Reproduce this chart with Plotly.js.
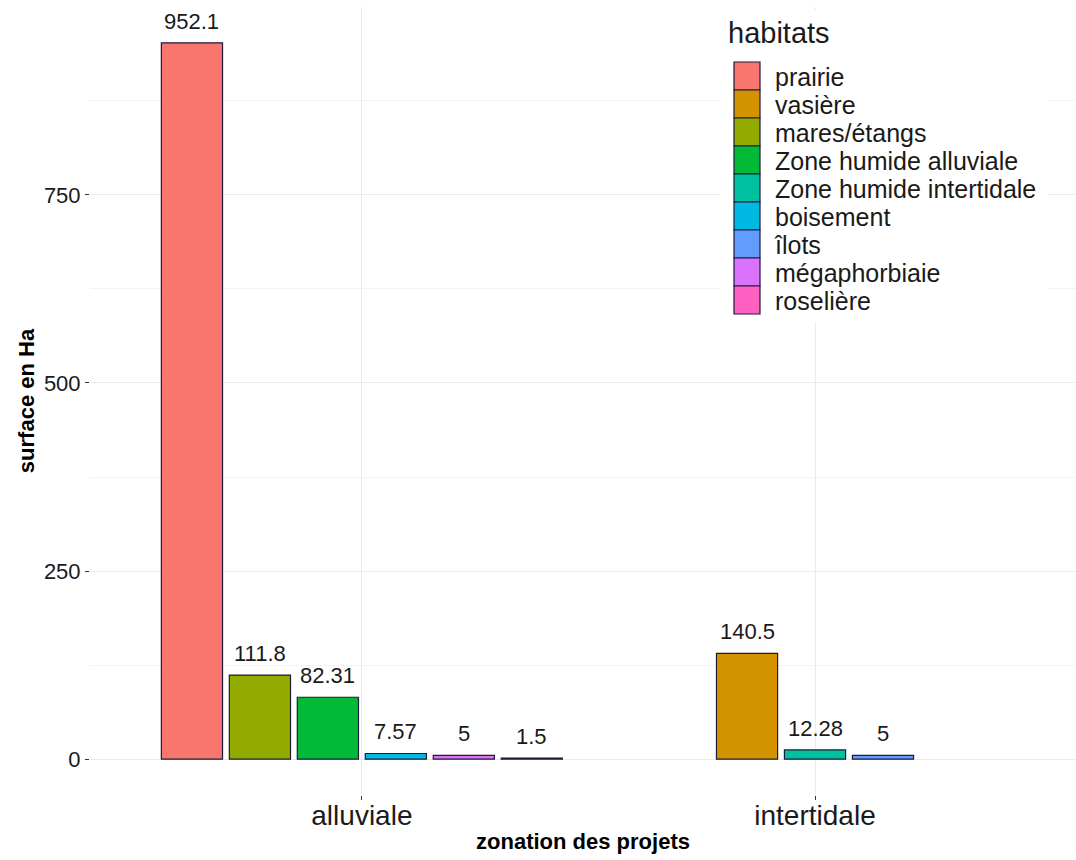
<!DOCTYPE html>
<html>
<head>
<meta charset="utf-8">
<script src="https://cdn.plot.ly/plotly-3.0.1.min.js"></script>
<style>
  html, body { margin: 0; padding: 0; background: #ffffff; }
  #plot { width: 1076px; height: 860px; }
</style>
</head>
<body>
<div id="plot"></div>
<script>
// ---- data ----
const categories = ['alluviale', 'intertidale'];
const habitats = ['prairie', 'vasière', 'mares/étangs', 'Zone humide alluviale', 'Zone humide intertidale', 'boisement', 'îlots', 'mégaphorbiaie', 'roselière'];
const zonation = ['alluviale', 'intertidale', 'alluviale', 'alluviale', 'intertidale', 'alluviale', 'intertidale', 'alluviale', 'alluviale'];
const surface = [952.1, 140.5, 111.8, 82.31, 12.28, 7.57, 5, 5, 1.5];
const colors = ['#F8766D', '#D39200', '#93AA00', '#00BA38', '#00C19F', '#00B9E3', '#619CFF', '#DB72FB', '#FF61C3'];
const yTicks = [0, 250, 500, 750];

// ---- dodge positions (ggplot position_dodge2, preserve = "single") ----
const groupSizes = categories.map(c => zonation.filter(z => z === c).length);
const maxN = Math.max(...groupSizes);
const slot = 0.9 / maxN;
const barW = slot * 0.9;

const traces = [];
const annotations = [];
const FONT = 'Liberation Sans, Arial, sans-serif';
habitats.forEach((h, i) => {
  const c = zonation[i];
  const ci = categories.indexOf(c);
  const members = habitats.map((_, j) => j).filter(j => zonation[j] === c);
  const idx = members.indexOf(i);
  const n = members.length;
  const center = (-n / 2 + idx + 0.5) * slot;
  traces.push({
    type: 'bar',
    name: h,
    x: [c],
    y: [surface[i]],
    width: [barW],
    offset: [center - barW / 2],
    marker: { color: colors[i], line: { color: '#1c1b3a', width: 1.2 } },
    hoverinfo: 'none'
  });
  annotations.push({
    x: ci + center,
    y: surface[i],
    xref: 'x', yref: 'y',
    text: String(surface[i]),
    showarrow: false,
    yanchor: 'bottom',
    yshift: 7,
    font: { family: FONT, size: 22, color: '#1a1a1a' }
  });
});

const yMax = Math.max(...surface);
const layout = {
  width: 1076,
  height: 860,
  margin: { l: 90, r: 0, t: 7, b: 65 },
  paper_bgcolor: '#ffffff',
  plot_bgcolor: '#ffffff',
  font: { family: FONT, color: '#1a1a1a' },
  barmode: 'overlay',
  showlegend: true,
  hovermode: false,
  xaxis: {
    type: 'category',
    categoryorder: 'array',
    categoryarray: categories,
    range: [-0.6, 1.576],
    showgrid: true,
    gridcolor: '#ebebeb',
    gridwidth: 1,
    zeroline: false,
    showline: false,
    ticks: 'outside',
    ticklen: 4,
    tickwidth: 1,
    tickcolor: '#333333',
    ticklabelstandoff: -9,
    tickfont: { family: FONT, size: 28, color: '#1a1a1a' },
    title: { text: '<b>zonation des projets</b>', font: { family: FONT, size: 22, color: '#000000' }, standoff: 4 }
  },
  yaxis: {
    range: [-0.05 * yMax, yMax * 1.05],
    tickvals: yTicks,
    ticktext: yTicks.map(String),
    showgrid: true,
    gridcolor: '#ebebeb',
    gridwidth: 1,
    minor: { tickvals: [125, 375, 625, 875], showgrid: true, gridcolor: '#f3f3f3', gridwidth: 1, ticks: '' },
    zeroline: false,
    showline: false,
    ticks: 'outside',
    ticklen: 4,
    tickwidth: 1,
    tickcolor: '#333333',
    tickfont: { family: FONT, size: 22, color: '#1a1a1a' },
    title: { text: '<b>surface en Ha</b>', font: { family: FONT, size: 22, color: '#000000' }, standoff: 3 }
  },
  legend: {
    x: (720 - 90) / 986,
    y: 1,
    xanchor: 'left',
    yanchor: 'top',
    bgcolor: '#ffffff',
    borderwidth: 0,
    traceorder: 'normal',
    title: { text: 'habitats', font: { family: FONT, size: 29, color: '#1a1a1a' } },
    font: { family: FONT, size: 25, color: '#1a1a1a' },
    itemclick: false,
    itemdoubleclick: false
  },
  annotations: annotations
};

const gd = document.getElementById('plot');
Plotly.newPlot(gd, traces, layout, { displayModeBar: false, staticPlot: true }).then(() => {
  // make legend keys look like ggplot (large contiguous squares, tight rows)
  const ROW = 28, FIRST_CENTER = 76, KEY_CX = 747;
  gd.querySelectorAll('.legend .scrollbox, .legend [clip-path]').forEach(el => el.removeAttribute('clip-path'));
  const items = gd.querySelectorAll('.legend .traces');
  items.forEach((g, i) => {
    const path = g.querySelector('.legendpoints path');
    if (path) {
      path.setAttribute('d', 'M13,14H-13V-14H13Z');
      path.style.strokeWidth = '1.2px';
    }
    const txt = g.querySelector('text.legendtext');
    if (txt) txt.setAttribute('x', '48');
    const m = /translate\(([-\d.]+)[ ,]+([-\d.]+)\)/.exec(g.getAttribute('transform') || '');
    const tx = m ? parseFloat(m[1]) : 0, ty = m ? parseFloat(m[2]) : 0;
    if (path) {
      const r = path.getBoundingClientRect();
      const cy = r.top + r.height / 2, cx = r.left + r.width / 2;
      g.setAttribute('transform', 'translate(' + (tx + KEY_CX - cx) + ',' + (ty + FIRST_CENTER + ROW * i - cy) + ')');
    }
  });
  // title position
  const title = gd.querySelector('.legend .legendtitletext');
  if (title) {
    const r = title.getBoundingClientRect();
    const ox = 728 - r.left, oy = 43 - r.bottom + 6;
    title.setAttribute('transform', 'translate(' + ox + ',' + oy + ')');
  }
  // background box
  const bg = gd.querySelector('.legend rect.bg');
  if (bg) {
    const r = bg.getBoundingClientRect();
    const bx = parseFloat(bg.getAttribute('x') || 0), by = parseFloat(bg.getAttribute('y') || 0);
    bg.setAttribute('x', bx + (720 - r.left));
    bg.setAttribute('y', by + (10 - r.top));
    bg.setAttribute('width', 1048 - 720);
    bg.setAttribute('height', 322 - 10);
  }
});
</script>
</body>
</html>
